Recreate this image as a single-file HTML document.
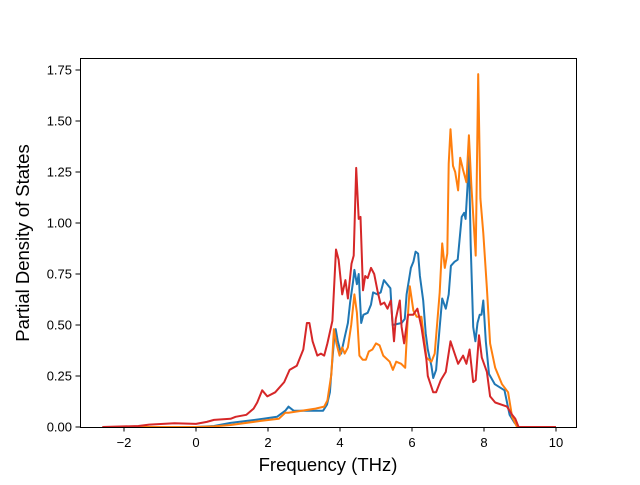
<!DOCTYPE html>
<html><head><meta charset="utf-8"><style>
body{margin:0;background:#fff;}
svg text{font-family:"Liberation Sans",sans-serif;fill:#000;}
</style></head><body>
<svg id="chart" width="640" height="480" viewBox="0 0 640 480" xmlns="http://www.w3.org/2000/svg">
<g id="plot"></g>
<rect x="80.5" y="58.5" width="496" height="369" fill="none" stroke="#000" stroke-width="1"/>
<g id="ticks"></g>
<text x="328" y="471" font-size="18.5" text-anchor="middle">Frequency (THz)</text>
<text transform="translate(29,243) rotate(-90)" font-size="18.5" text-anchor="middle">Partial Density of States</text>
</svg>
<script>
const xTicks=[-2,0,2,4,6,8,10];
const yTicks=[0,0.25,0.5,0.75,1.0,1.25,1.5,1.75];
const yTickLabels=["0.00","0.25","0.50","0.75","1.00","1.25","1.50","1.75"];
const blueSeries=[[-2.6,0],[0,0],[0.5,0.005],[0.96,0.02],[1.87,0.04],[2.25,0.05],[2.48,0.08],[2.57,0.10],[2.71,0.08],[3.16,0.08],[3.35,0.08],[3.53,0.08],[3.64,0.11],[3.72,0.17],[3.76,0.27],[3.83,0.42],[3.88,0.48],[3.94,0.42],[4.03,0.36],[4.13,0.44],[4.22,0.51],[4.28,0.61],[4.36,0.71],[4.4,0.77],[4.47,0.70],[4.52,0.75],[4.59,0.51],[4.65,0.55],[4.77,0.56],[4.86,0.60],[4.92,0.66],[5.04,0.65],[5.13,0.66],[5.22,0.72],[5.31,0.70],[5.4,0.68],[5.46,0.50],[5.71,0.51],[5.8,0.53],[5.85,0.65],[5.97,0.78],[6.04,0.81],[6.1,0.86],[6.17,0.85],[6.22,0.74],[6.31,0.62],[6.38,0.46],[6.44,0.38],[6.54,0.30],[6.59,0.24],[6.67,0.28],[6.77,0.49],[6.84,0.63],[6.94,0.58],[7.02,0.65],[7.08,0.79],[7.18,0.81],[7.27,0.82],[7.38,1.03],[7.45,1.05],[7.49,1.02],[7.54,1.17],[7.58,1.33],[7.63,0.89],[7.7,0.49],[7.76,0.42],[7.82,0.51],[7.88,0.55],[7.93,0.55],[7.98,0.62],[8.05,0.42],[8.14,0.26],[8.3,0.21],[8.57,0.18],[8.71,0.06],[8.85,0.02],[8.95,0],[10,0]];
const orangeSeries=[[-2.6,0],[0,0],[0.5,0.003],[0.96,0.01],[1.8,0.03],[2.3,0.04],[2.48,0.07],[2.57,0.07],[2.94,0.08],[3.32,0.09],[3.56,0.10],[3.65,0.13],[3.76,0.26],[3.83,0.48],[3.9,0.41],[3.99,0.35],[4.06,0.39],[4.13,0.36],[4.22,0.39],[4.31,0.50],[4.4,0.65],[4.47,0.56],[4.54,0.35],[4.63,0.33],[4.72,0.33],[4.8,0.37],[4.9,0.38],[5.0,0.41],[5.1,0.40],[5.2,0.35],[5.38,0.32],[5.47,0.28],[5.56,0.32],[5.7,0.31],[5.81,0.29],[5.88,0.53],[5.94,0.69],[6.04,0.57],[6.13,0.54],[6.26,0.54],[6.4,0.34],[6.54,0.32],[6.63,0.36],[6.77,0.66],[6.84,0.90],[6.91,0.78],[6.98,0.85],[7.02,1.29],[7.07,1.46],[7.14,1.28],[7.2,1.25],[7.28,1.16],[7.34,1.32],[7.42,1.26],[7.51,1.2],[7.58,1.43],[7.65,1.18],[7.77,0.84],[7.84,1.73],[7.9,1.12],[7.98,0.95],[8.08,0.68],[8.17,0.41],[8.31,0.29],[8.5,0.21],[8.67,0.17],[8.78,0.05],[8.92,0],[10,0]];
const redSeries=[[-2.6,0],[-1.6,0.005],[-1.3,0.012],[-0.6,0.018],[0,0.015],[0.3,0.025],[0.5,0.035],[0.96,0.04],[1.1,0.05],[1.4,0.06],[1.6,0.09],[1.7,0.12],[1.84,0.18],[1.98,0.15],[2.2,0.17],[2.45,0.22],[2.6,0.28],[2.8,0.30],[2.98,0.38],[3.08,0.51],[3.15,0.51],[3.24,0.42],[3.37,0.35],[3.47,0.36],[3.56,0.35],[3.65,0.41],[3.79,0.52],[3.89,0.87],[3.96,0.82],[4.06,0.65],[4.15,0.72],[4.22,0.63],[4.32,0.80],[4.38,0.84],[4.45,1.27],[4.52,1.02],[4.57,1.03],[4.64,0.67],[4.7,0.74],[4.77,0.73],[4.86,0.78],[4.95,0.75],[5.04,0.67],[5.13,0.60],[5.23,0.61],[5.32,0.58],[5.41,0.62],[5.5,0.42],[5.55,0.53],[5.66,0.62],[5.71,0.49],[5.78,0.41],[5.89,0.55],[6.03,0.55],[6.15,0.58],[6.26,0.49],[6.4,0.33],[6.44,0.25],[6.59,0.17],[6.67,0.17],[6.8,0.23],[6.94,0.27],[7.07,0.42],[7.28,0.31],[7.42,0.35],[7.51,0.31],[7.6,0.38],[7.7,0.22],[7.77,0.23],[7.86,0.45],[7.94,0.34],[8.08,0.27],[8.17,0.15],[8.31,0.12],[8.64,0.10],[8.78,0.06],[8.87,0.04],[8.96,0],[10,0]];

const NS="http://www.w3.org/2000/svg";
function xs(f){return 196+36*f;}
function ys(v){return 427-204*v;}
const plot=document.getElementById('plot');
const ticks=document.getElementById('ticks');
function drawLine(data,color,name){
  const p=document.createElementNS(NS,'polyline');
  p.setAttribute('points',data.map(d=>xs(d[0]).toFixed(1)+','+ys(d[1]).toFixed(1)).join(' '));
  p.setAttribute('fill','none');p.setAttribute('stroke',color);
  p.setAttribute('stroke-width','2');p.setAttribute('stroke-linejoin','round');
  
  
  plot.appendChild(p);
}
drawLine(blueSeries,'#1f77b4','series-blue');
drawLine(orangeSeries,'#ff7f0e','series-orange');
drawLine(redSeries,'#d62728','series-red');
xTicks.forEach(t=>{
  const x=xs(t);
  const l=document.createElementNS(NS,'line');
  l.setAttribute('x1',x);l.setAttribute('x2',x);l.setAttribute('y1',427);l.setAttribute('y2',431.5);l.setAttribute('stroke','#000');
  
  
  ticks.appendChild(l);
  const tx=document.createElementNS(NS,'text');
  tx.setAttribute('x',x);tx.setAttribute('y',447);tx.setAttribute('font-size','13');tx.setAttribute('text-anchor','middle');
  tx.textContent=(t<0?'\u2212'+(-t):String(t));
  
  
  ticks.appendChild(tx);
});
yTicks.forEach((t,i)=>{
  const y=ys(t);
  const l=document.createElementNS(NS,'line');
  l.setAttribute('x1',75.5);l.setAttribute('x2',80);l.setAttribute('y1',y);l.setAttribute('y2',y);l.setAttribute('stroke','#000');
  
  
  ticks.appendChild(l);
  const tx=document.createElementNS(NS,'text');
  tx.setAttribute('x',72);tx.setAttribute('y',y+4.5);tx.setAttribute('font-size','13');tx.setAttribute('text-anchor','end');
  tx.textContent=yTickLabels[i];
  
  
  ticks.appendChild(tx);
});
</script>
</body></html>
